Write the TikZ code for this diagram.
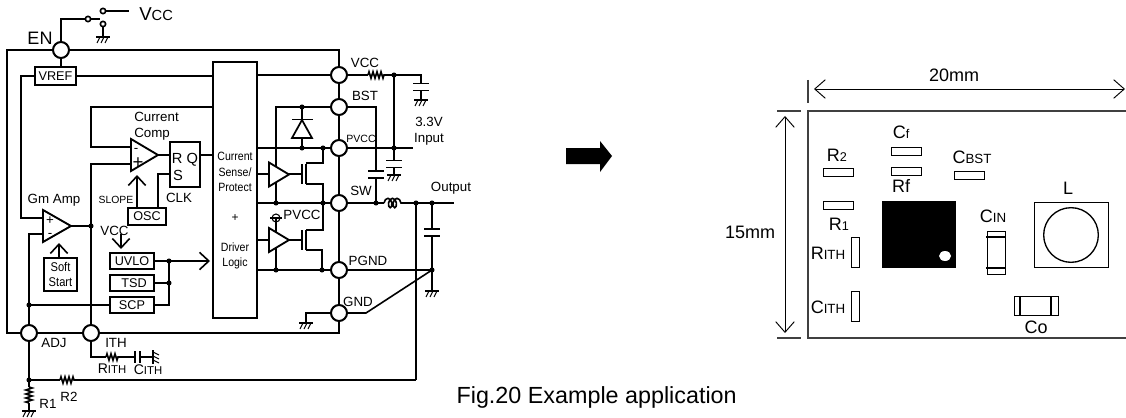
\documentclass[tikz,border=0pt]{standalone}
\usepackage{fontspec}
\setmainfont{Liberation Sans}
\newfontfamily\tightfont[FakeStretch=0.88]{Liberation Sans}
\usetikzlibrary{arrows.meta}
\usetikzlibrary{decorations.pathmorphing}
\usetikzlibrary{shapes.geometric}
\usetikzlibrary{calc}

\newcommand{\lblfont}[1]{\fontsize{#1}{#1}\selectfont}

\tikzset{
  wire/.style={line width=1.2pt},
  heavy/.style={line width=1.9pt},
  thinwire/.style={line width=0.8pt},
  txt/.style={inner sep=0pt,font=\lblfont{10}},
  bigtxt/.style={inner sep=0pt,font=\lblfont{13.5}},
  pincirc/.style={circle,draw,line width=1.5pt,fill=white,minimum size=12pt,inner sep=0pt},
  blk/.style={draw,line width=1.4pt,fill=white,inner sep=0pt,font=\lblfont{9.5}},
  part/.style={draw,line width=0.7pt,fill=white,inner sep=0pt},
  dot/.style={circle,fill,minimum size=3.8pt,inner sep=0pt},
  res/.style={line width=1.2pt,decorate,decoration={zigzag,amplitude=2.4pt,segment length=3pt}},
  ind/.style={line width=1.2pt,decorate,decoration={coil,amplitude=3.5pt,segment length=3.4pt,aspect=0.6}},
  barb/.style={-{Straight Barb[length=7pt,width=13pt,line width=1.2pt]}},
  dim/.style={line width=0.7pt,{Straight Barb[length=8pt,width=14pt]}-{Straight Barb[length=8pt,width=14pt]}},
  gndsym/.pic={
    \draw[line width=1pt] (-7,0) -- (7,0);
    \draw[line width=0.8pt] (-3,0) -- (-6,6) (1,0) -- (-2,6) (5,0) -- (2,6);
  },
  capsym/.pic={
    \fill[white] (-8,-3.5) rectangle (8,3.5);
    \draw[line width=1.2pt] (-8,-3.5) -- (8,-3.5) (-8,3.5) -- (8,3.5);
  },
  bufsym/.pic={
    \draw[line width=1.4pt,fill=white] (0,-12) -- (0,12) -- (20,0) -- cycle;
  },
  fetsym/.pic={
    \draw[line width=1.3pt] (0,-10) -- (0,10);
    \draw[line width=1.3pt] (4,-10) -- (4,10);
  }
}

\begin{document}
\begin{tikzpicture}[x=0.75pt,y=-0.75pt]
  \useasboundingbox (0,0) rectangle (1126,417);

  % Junctions
  \coordinate (swblade) at (100,19);
  \coordinate (gmin) at (21,218);
  \coordinate (vrefbend) at (21,76);
  \coordinate (gmplus) at (43,218);
  \coordinate (gmminus) at (43,234);
  \coordinate (gmbend) at (29,234);
  \coordinate (gmout) at (71,226);
  \coordinate (fbtop) at (91,107);
  \coordinate (cmpminus) at (131,147);
  \coordinate (fbleft) at (91,147);
  \coordinate (cmpplus) at (131,164);
  \coordinate (plusleft) at (91,164);
  \coordinate (cmpout) at (158,155);
  \coordinate (clkup) at (158,174);
  \coordinate (ffs) at (170,174);
  \coordinate (ithbend) at (91,357);
  \coordinate (outfb) at (416,380);
  \coordinate (rtwoa) at (60,380);
  \coordinate (rtwob) at (75,380);

  % Package outline
  \draw[heavy] (7,50) rectangle (339,333);
  \node[draw,line width=1.4pt,minimum width=33pt,minimum height=192pt,inner sep=0pt] (logic) at (235,190) {};

  % Pins
  \node[pincirc] (en) at (61,50) {};
  \node[pincirc] (adj) at (29,333) {};
  \node[pincirc] (ith) at (91,333) {};
  \node[pincirc] (vcc) at (339,75) {};
  \node[pincirc] (bst) at (339,107) {};
  \node[pincirc] (pvcc) at (339,148) {};
  \node[pincirc] (sw) at (339,203) {};
  \node[pincirc] (pgnd) at (339,270) {};
  \node[pincirc] (gnd) at (339,313) {};

  % Blocks
  \node[blk,minimum width=30.75pt,minimum height=13.5pt] (vref) at (55.5,76) {VREF};
  \node[blk,minimum width=22.5pt,minimum height=33.75pt] (ff) at (185,164.5) {};
  \node[blk,minimum width=28.5pt,minimum height=12.75pt] (osc) at (147,216.5) {OSC};
  \node[blk,minimum width=33pt,minimum height=12pt] (uvlo) at (132,261) {UVLO};
  \node[blk,minimum width=33pt,minimum height=12pt] (tsd) at (132,283) {\hspace{3pt}TSD};
  \node[blk,minimum width=33pt,minimum height=12pt] (scp) at (132,305) {SCP};
  \node[blk,minimum width=25pt,minimum height=25pt,align=center,font=\tightfont\lblfont{9.5}] (soft) at (60.5,274.5) {Soft\\[1.5pt]Start};

  % Top switch and supply
  \coordinate (swpivot) at (88,19);
  \coordinate (swtop) at (103,11);
  \coordinate (swlow) at (103,24);
  \coordinate (vccend) at (129,11);
  \draw[wire] (en.north) |- (swpivot) -- (swblade);
  \draw[wire] (swtop) -- (vccend);
  \draw[wire] (swlow) -- ++(0,13);
  \pic at (103,37) {gndsym};
  \draw[wire,fill=white] (swpivot) circle (2pt) (swtop) circle (2pt) (swlow) circle (2pt);

  % Internal wiring, left
  \draw[wire] (en) -- (vref.north -| en);
  \draw[wire] (vref.west) -- (vrefbend) -- (gmin) -- (gmplus);
  \draw[wire] (vref.east) -- (vref.east -| logic.west);
  \draw[wire] (logic.west |- fbtop) -- (fbtop) -- (fbleft) -- (cmpminus);
  \draw[wire] (cmpplus) -- (plusleft) -- (ith);
  \draw[wire] (gmminus) -- (gmbend) -- (adj);
  \draw[wire] (gmout) -- (ith.north |- gmout) node[dot] (gmdot) {};
  \draw[wire] (cmpout) -- (ff.west |- cmpout);
  \draw[wire] (ff.east |- cmpout) -- (logic.west |- cmpout);
  \draw[wire] (osc.north -| clkup) -- (clkup) -- (ffs);
  \draw[wire,barb] (137,208) -- (137,175);
  \draw[wire,barb] (59,258) -- (59,243);
  \draw[wire,barb] (121,234) -- (121,249);
  \draw[wire] (29,305) node[dot] (adjdot) {} -- (scp.west);
  \draw[wire] (scp.east) -| (169,261);
  \draw[wire] (tsd.east) -- (169,283) node[dot] (tsddot) {};
  \draw[wire,barb] (uvlo.east) -- (210,261);
  \node[dot] (uvlodot) at (169,261) {};

  % Amplifiers
  \draw[line width=1.4pt,fill=white] (131,139) -- (131,171) -- (cmpout) -- cycle;
  \draw[line width=1.4pt,fill=white] (43,210) -- (43,242) -- (gmout) -- cycle;

  % Output stage
  \coordinate (hiout) at (323,163);
  \coordinate (hilow) at (323,184);
  \coordinate (loup) at (323,230);
  \coordinate (lolow) at (322,250);
  \draw[wire] (logic.east |- vcc) -- (vcc);
  \draw[wire] (logic.east |- pvcc) -- (pvcc);
  \draw[wire] (logic.east |- sw) -- (sw);
  \draw[wire] (logic.east |- pgnd) -- (pgnd);
  \draw[wire] (bst) -- (276,107) -- (276,203);
  \draw[wire] (302,107) -- (302,148);
  \draw[wire] (276,218) -- (276,270);
  \draw[wire] (257,174) -- (302,174);
  \draw[wire] (257,240) -- (302,240);
  \draw[wire] (323,148) -- (hiout) -- (306,163);
  \draw[wire] (306,184) -- (hilow) -- (323,203);
  \draw[wire] (306,230) -- (loup) -- (323,203);
  \draw[wire] (306,250) -- (lolow) -- (322,270);
  \pic at (269,174.5) {bufsym};
  \pic at (269,240) {bufsym};
  \pic at (302,174) {fetsym};
  \pic at (302,240) {fetsym};
  \draw[line width=1.3pt,fill=white] (302,120) -- (292,138) -- (312,138) -- cycle;
  \draw[line width=1.3pt] (292,119.5) -- (313,119.5);
  \draw[thinwire] (276,218) circle (3pt);
  \draw[thinwire] (270,218) -- (282,218);

  % External wiring, right
  \coordinate (rvcca) at (368,75);
  \coordinate (rvccb) at (385,75);
  \coordinate (lia) at (384,203);
  \coordinate (lib) at (405,203);
  \coordinate (vccsplit) at (394,75);
  \coordinate (incap) at (394,148);
  \coordinate (inend) at (413,148);
  \coordinate (bstbend) at (376,107);
  \coordinate (swnode) at (376,203);
  \coordinate (fbnode) at (416,203);
  \coordinate (outcap) at (432,203);
  \coordinate (outend) at (454,203);
  \coordinate (pgndnode) at (432,270);
  \coordinate (gndbend) at (366,313);
  \coordinate (gndleft) at (306,313);
  \draw[wire] (vcc) -- (rvcca);
  \draw[res] (rvcca) -- (rvccb);
  \draw[wire] (rvccb) -- (vccsplit) -- (421,75) -- (421,100);
  \draw[wire] (vccsplit) -- (incap);
  \draw[wire] (pvcc) -- (inend);
  \draw[wire] (incap) -- (394,175);
  \draw[wire] (bst) -- (bstbend) -- (swnode);
  \draw[wire] (sw) -- (lia);
  \draw[ind] (lia) -- (lib);
  \draw[wire] (lib) -- (outend);
  \draw[wire] (outcap) -- (432,290);
  \draw[wire] (pgnd) -- (pgndnode);
  \draw[wire] (gnd) -- (gndbend) -- (pgndnode);
  \draw[wire] (gnd) -- (gndleft) -- (306,324);
  \draw[wire] (fbnode) -- (outfb);
  \pic at (421,87) {capsym};
  \pic at (394,164) {capsym};
  \pic at (376,174.5) {capsym};
  \pic at (432,232.5) {capsym};
  \pic at (421,100) {gndsym};
  \pic at (394,175) {gndsym};
  \pic at (432,291) {gndsym};
  \pic at (306,323) {gndsym};

  % Feedback network
  \coordinate (ritha) at (106,357);
  \coordinate (rithb) at (119,357);
  \coordinate (cithend) at (153,357);
  \coordinate (adjnode) at (29,380);
  \coordinate (ronea) at (29,387);
  \coordinate (roneb) at (29,403);
  \draw[wire] (ith) -- (ithbend) -- (ritha);
  \draw[res] (ritha) -- (rithb);
  \draw[wire] (rithb) -- (135,357);
  \draw[wire] (140,357) -- (cithend);
  \draw[wire] (135,351) -- (135,363) (140,351) -- (140,363);
  \pic[rotate=90] at (153,357) {gndsym};
  \draw[wire] (adj) -- (adjnode) -- (rtwoa);
  \draw[res] (rtwoa) -- (rtwob);
  \draw[wire] (rtwob) -- (outfb);
  \draw[wire] (adjnode) -- (ronea);
  \draw[res] (ronea) -- (roneb);
  \draw[wire] (roneb) -- (29,410);
  \pic at (29,411) {gndsym};

  % Dots
  \foreach \xx/\yy in {276/203,302/107,302/148,323/148,323/203,276/270,322/270,394/75,394/148,376/203,416/203,432/203,432/270,29/380}{
    \node[dot] at (\xx,\yy) {};
  }

  % Labels, left
  \node[inner sep=0pt,anchor=west] (vcctxt) at (139,14) {\lblfont{14}V\lblfont{11}CC};
  \node[bigtxt] (entxt) at (40,38) {EN};
  \node[txt,anchor=west,align=left] (cmptxt) at (134,126.5) {Current\\[2pt]Comp};
  \node[txt] (gmtxt) at (54,200) {Gm Amp};
  \node[txt,font=\lblfont{7.8}] (slopetxt) at (116,200) {SLOPE};
  \node[txt] (clktxt) at (179,198) {CLK};
  \node[txt,font=\lblfont{11}] (rqtxt) at (185,160) {R Q};
  \node[txt,font=\lblfont{11}] (stxt) at (178,175) {S};
  \node[txt,font=\lblfont{10}] (minustxt) at (136,150) {-};
  \node[txt,font=\lblfont{14}] (plustxt) at (138,163) {+};
  \node[txt,font=\lblfont{10}] (gmptxt) at (50,221) {+};
  \node[txt,font=\lblfont{10}] (gmmtxt) at (50,235) {-};
  \node[txt] (vccin) at (114.5,231) {VCC};
  \node[txt,font=\tightfont\lblfont{9},align=center] (senstxt) at (235,172) {Current\\[2.6pt]Sense/\\[2.6pt]Protect};
  \node[txt,font=\lblfont{9}] (addtxt) at (235,218) {+};
  \node[txt,font=\tightfont\lblfont{9},align=center] (drvtxt) at (235,256) {Driver\\[2.6pt]Logic};
  \node[txt] (adjtxt) at (54,343) {ADJ};
  \node[txt] (ithtxt) at (116,343) {ITH};
  \node[txt] (rithtxt) at (112,369) {{\lblfont{10.5}R}{\lblfont{8.5}ITH}};
  \node[txt] (cithtxt) at (148,370) {{\lblfont{10.5}C}{\lblfont{8.5}ITH}};
  \node[txt] (ronetxt) at (48,404) {R1};
  \node[txt] (rtwotxt) at (69,397) {R2};

  % Labels, right of package
  \node[txt] (vcclab) at (365,63) {VCC};
  \node[txt] (bstlab) at (365,96) {BST};
  \node[txt,font=\lblfont{7.9}] (pvcclab) at (361,139) {PVCC};
  \node[txt] (swlab) at (361,191) {SW};
  \node[txt] (pvcctwo) at (302,215) {PVCC};
  \node[txt] (pgndlab) at (368,261) {PGND};
  \node[txt] (gndlab) at (358,302) {GND};
  \node[txt,align=center] (inlab) at (429,131) {3.3V\\[2pt]Input};
  \node[txt] (outlab) at (451,188) {Output};

  % Big arrow
  \fill (566,148) -- (600,148) -- (600,141) -- (612,156) -- (600,172) -- (600,164) -- (566,164) -- cycle;

  % Caption
  \node[inner sep=0pt,anchor=east,font=\lblfont{17.5}] (caption) at (737,397) {Fig.20 Example application};

  % Board
  \draw[line width=1.1pt,black!75] (1126,111) -- (808,111) -- (808,338) -- (1126,338);
  \coordinate (dimxa) at (814,89);
  \coordinate (dimxb) at (1125,89);
  \coordinate (dimya) at (785,116);
  \coordinate (dimyb) at (785,333);
  \draw[line width=0.9pt,black!75] (808,80) -- (808,103);
  \draw[line width=0.9pt,black!75] (777,111) -- (801,111) (777,338) -- (801,338);
  \draw[dim] (dimxa) -- (dimxb);
  \draw[dim] (dimya) -- (dimyb);
  \node[bigtxt] (widthtxt) at (954,75) {20mm};
  \node[bigtxt] (heighttxt) at (750,232) {15mm};

  % Parts
  \node[part,minimum width=23pt,minimum height=6pt] (rtwo) at (838.5,172) {};
  \node[part,minimum width=23pt,minimum height=6pt] (rone) at (838.5,205.5) {};
  \node[part,minimum width=23pt,minimum height=6pt] (cf) at (906.5,151) {};
  \node[part,minimum width=23pt,minimum height=6pt] (rf) at (906.5,171) {};
  \node[part,minimum width=23pt,minimum height=6pt] (cbst) at (969.5,175) {};
  \node[part,minimum width=6pt,minimum height=23pt] (rith) at (855.5,252.5) {};
  \node[part,minimum width=6pt,minimum height=23pt] (cith) at (855.5,306.5) {};
  \node[fill=black,inner sep=0pt,minimum width=55.5pt,minimum height=50.25pt] (chip) at (919,234.5) {};
  \node[ellipse,fill=white,inner sep=0pt,minimum width=9pt,minimum height=7.5pt] (chipmark) at (945,256) {};
  \node[part,minimum width=13.5pt,minimum height=32.25pt] (cin) at (996,252.5) {};
  \draw[line width=0.9pt] (986,237) -- (1005,237) (986,268) -- (1005,268);
  \node[part,minimum width=33pt,minimum height=14.25pt] (cout) at (1036,305.5) {};
  \draw[line width=1.2pt] (1020,296) -- (1020,315) (1051,296) -- (1051,315);
  \node[part,minimum width=55.5pt,minimum height=48.75pt] (lbox) at (1071,234.5) {};
  \node[circle,draw,line width=1pt,inner sep=0pt,minimum size=41pt] (lcoil) at (1071,235) {};

  % Part labels
  \node[bigtxt] (rtwolab) at (837,155) {R{\lblfont{9.5}2}};
  \node[bigtxt] (ronelab) at (839,224) {R{\lblfont{9.5}1}};
  \node[bigtxt] (cflab) at (901,132) {C{\lblfont{9.5}f}};
  \node[bigtxt] (rflab) at (901,186) {Rf};
  \node[bigtxt] (cbstlab) at (972,157) {C{\lblfont{10}BST}};
  \node[bigtxt] (cinlab) at (993,216) {C{\lblfont{10}IN}};
  \node[bigtxt] (llab) at (1068,188) {L};
  \node[bigtxt] (rithlab) at (828,253) {R{\lblfont{10}ITH}};
  \node[bigtxt] (cithlab) at (828,307) {C{\lblfont{10}ITH}};
  \node[bigtxt] (colab) at (1036,327) {Co};
\end{tikzpicture}
\end{document}
